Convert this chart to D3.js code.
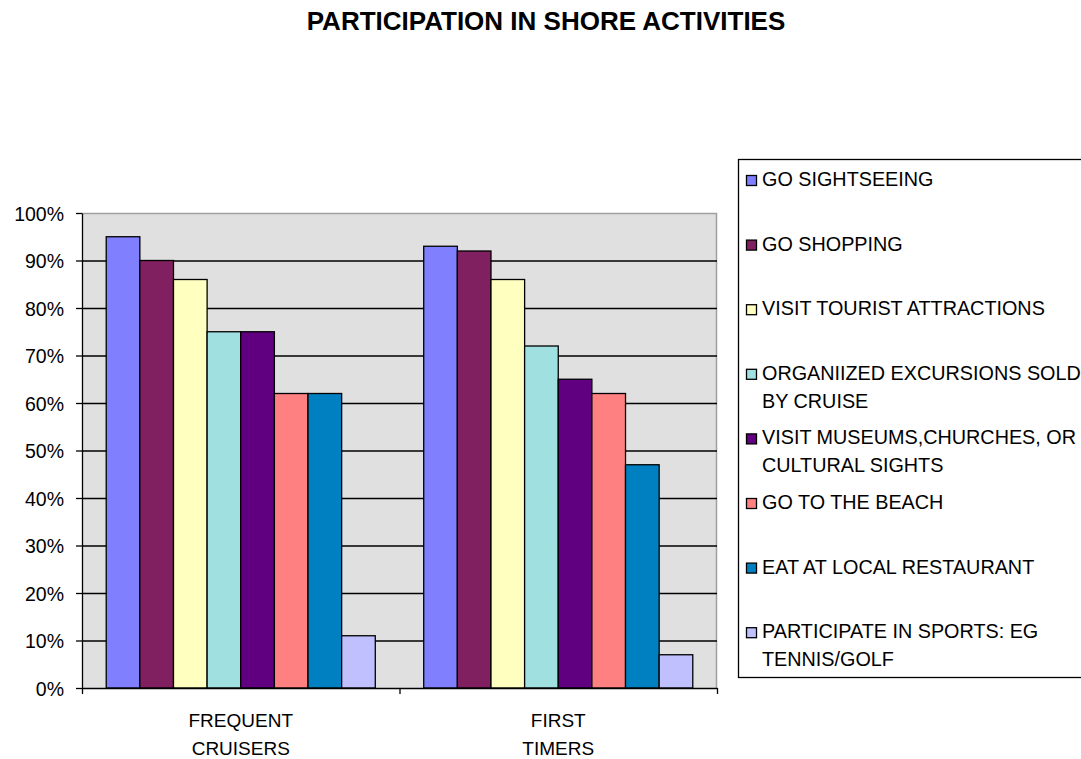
<!DOCTYPE html>
<html>
<head>
<meta charset="utf-8">
<script src="https://cdn.jsdelivr.net/npm/d3@7"></script>
<style>
  body { margin: 0; background: #fff; }
  text { font-family: Arial, "Liberation Sans", sans-serif; fill: #000; }
</style>
</head>
<body>
<script>
// data
const groups = ['FREQUENT CRUISERS', 'FIRST TIMERS']
const groupLines = [['FREQUENT', 'CRUISERS'], ['FIRST', 'TIMERS']]
const activities = [
  'GO SIGHTSEEING',
  'GO SHOPPING',
  'VISIT TOURIST ATTRACTIONS',
  'ORGANIIZED EXCURSIONS SOLD\nBY CRUISE',
  'VISIT MUSEUMS,CHURCHES, OR\nCULTURAL SIGHTS',
  'GO TO THE BEACH',
  'EAT AT LOCAL RESTAURANT',
  'PARTICIPATE IN SPORTS: EG\nTENNIS/GOLF'
]
const frequentCruisers = [95, 90, 86, 75, 75, 62, 62, 11]
const firstTimers = [93, 92, 86, 72, 65, 62, 47, 7]
const yTicks = [0, 10, 20, 30, 40, 50, 60, 70, 80, 90, 100]
const colors = ['#8080FF', '#802060', '#FFFFC0', '#A0E0E0', '#600080', '#FF8080', '#0080C0', '#C0C0FF']

const seriesByGroup = [frequentCruisers, firstTimers]

const margin = {top: 213, right: 364, bottom: 71, left: 82}
, width = 1081 - margin.left - margin.right
, height = 759 - margin.top - margin.bottom

const svg = d3.select('body').append('svg')
    .attr('width', 1081)
    .attr('height', 759)

svg.append('text')
    .attr('x', 546)
    .attr('y', 30)
    .attr('text-anchor', 'middle')
    .style('font-size', '26px')
    .style('font-weight', 'bold')
    .text('PARTICIPATION IN SHORE ACTIVITIES')

const g = svg.append('g')
    .attr('transform', 'translate(' + margin.left + ',' + margin.top + ')')

const yScale = d3.scaleLinear()
    .domain([0, 100])
    .range([height, 0])

const x0 = d3.scaleBand()
    .domain(groups)
    .range([0, width])
    .padding(0)

const x1 = d3.scaleBand()
    .domain(activities)
    .range([0, x0.bandwidth()])
    .paddingInner(0)
    .paddingOuter(0.72)

// plot background
g.append('rect')
    .attr('width', width)
    .attr('height', height)
    .attr('fill', '#E0E0E0')

// gray top/right border
g.append('path')
    .attr('d', 'M0,0.5H' + (width - 0.5) + 'V' + height)
    .attr('fill', 'none')
    .attr('stroke', '#A0A0A0')
    .attr('stroke-width', 1.5)

// gridlines
g.append('g')
    .call(d3.axisLeft(yScale).tickValues(yTicks.filter(d => d > 0 && d < 100)).tickSize(-width).tickFormat(''))
    .call(a => a.select('.domain').remove())
    .selectAll('line')
    .attr('stroke', '#000')
    .attr('stroke-width', 1.3)

// bars
const groupG = g.selectAll('.group')
    .data(groups)
    .enter()
    .append('g')
    .attr('class', 'group')
    .attr('transform', d => 'translate(' + x0(d) + ',0)')

groupG.selectAll('rect')
    .data((d, i) => seriesByGroup[i].map((v, j) => ({key: activities[j], value: v, idx: j})))
    .enter()
    .append('rect')
    .attr('x', d => x1(d.key))
    .attr('y', d => yScale(d.value))
    .attr('width', x1.bandwidth())
    .attr('height', d => height - yScale(d.value))
    .attr('fill', d => colors[d.idx])
    .attr('stroke', '#000')
    .attr('stroke-width', 1.3)

// y axis
const yAxis = g.append('g')
    .call(d3.axisLeft(yScale).tickValues(yTicks).tickFormat(d => d + '%').tickSize(6).tickSizeOuter(0).tickPadding(12))
yAxis.selectAll('line, path').attr('stroke', '#000').attr('stroke-width', 1.3)
yAxis.selectAll('text')
    .style('font-size', '19.5px')
    .attr('dy', '0.36em')

// x axis with ticks between categories
const xEdge = d3.scaleLinear().domain([0, groups.length]).range([0, width])
const xAxis = g.append('g')
    .attr('transform', 'translate(0,' + height + ')')
    .call(d3.axisBottom(xEdge).tickValues(d3.range(groups.length + 1)).tickFormat('').tickSize(6).tickSizeOuter(0))
xAxis.selectAll('line, path').attr('stroke', '#000').attr('stroke-width', 1.3)

groups.forEach((grp, i) => {
  const t = g.append('text')
      .attr('x', x0(grp) + x0.bandwidth() / 2)
      .attr('y', height + 39)
      .attr('text-anchor', 'middle')
      .style('font-size', '19px')
  groupLines[i].forEach((line, k) => {
    t.append('tspan')
        .attr('x', x0(grp) + x0.bandwidth() / 2)
        .attr('dy', k === 0 ? 0 : 28)
        .text(line)
  })
})

// legend
const legend = svg.append('g')

legend.append('rect')
    .attr('x', 738.5)
    .attr('y', 159.5)
    .attr('width', 360)
    .attr('height', 518)
    .attr('fill', '#fff')
    .attr('stroke', '#000')
    .attr('stroke-width', 1.3)

const legendItems = legend.selectAll('.item')
    .data(activities)
    .enter()
    .append('g')
    .attr('class', 'item')
    .attr('transform', (d, i) => 'translate(746,' + (186 + i * 64.6) + ')')

legendItems.append('rect')
    .attr('x', 0.5)
    .attr('y', -10.5)
    .attr('width', 10)
    .attr('height', 10)
    .attr('fill', (d, i) => colors[i])
    .attr('stroke', '#000')
    .attr('stroke-width', 1.3)

legendItems.append('text')
    .attr('x', 16)
    .attr('y', 0)
    .style('font-size', '19.8px')
    .each(function(d) {
      const lines = d.split('\n')
      lines.forEach((line, k) => {
        d3.select(this).append('tspan')
            .attr('x', 16)
            .attr('dy', k === 0 ? 0 : 28)
            .text(line)
      })
    })
</script>
</body>
</html>
